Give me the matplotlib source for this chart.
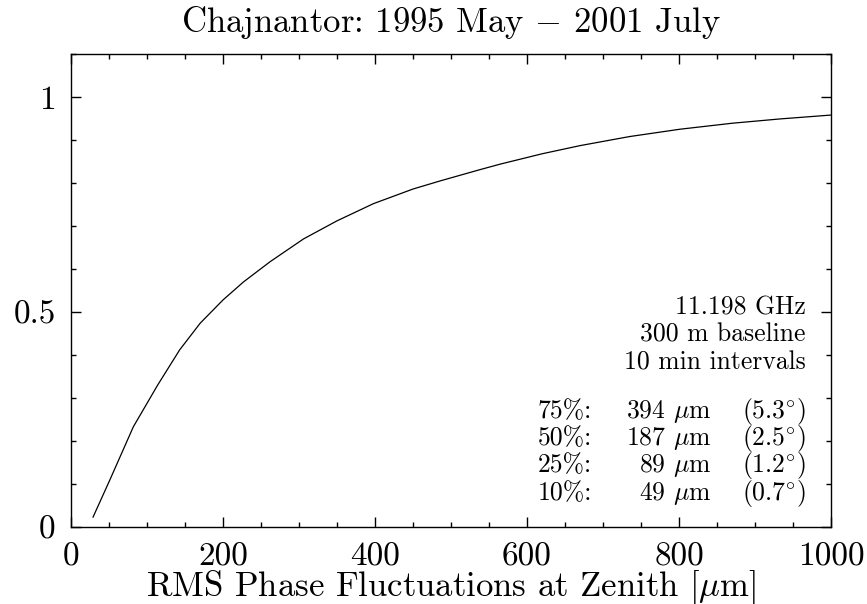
import matplotlib
matplotlib.use("Agg")
import matplotlib.pyplot as plt
from matplotlib.ticker import MultipleLocator, FormatStrFormatter

plt.rcParams['font.family'] = ['cmr10', 'DejaVu Serif']
plt.rcParams['mathtext.fontset'] = 'cm'
plt.rcParams['axes.formatter.use_mathtext'] = True

# cumulative fraction vs rms phase
rms_um = [29, 51, 82, 114, 143, 170, 200, 227, 262, 306, 350, 398, 450, 486,
          538, 565, 620, 670, 735, 801, 870, 933, 1000]
frac = [0.023, 0.109, 0.233, 0.330, 0.412, 0.474, 0.528, 0.570, 0.617, 0.670,
        0.712, 0.752, 0.786, 0.805, 0.831, 0.844, 0.868, 0.887, 0.908, 0.925,
        0.939, 0.949, 0.958]

info_lines = ['11.198 GHz', '300 m baseline', '10 min intervals']
pct_labels = ['75%:', '50%:', '25%:', '10%:']
pct_um = ['394', '187', '89', '49']
pct_deg = ['5.3', '2.5', '1.2', '0.7']

fig = plt.figure(figsize=(8.67, 6.04), dpi=100)
ax = fig.add_axes([0.0819, 0.1275, 0.8766, 0.7831])

ax.plot(rms_um, frac, color='black', lw=0.9)

ax.set_xlim(0, 1000)
ax.set_ylim(0, 1.1)
ax.xaxis.set_major_locator(MultipleLocator(200))
ax.xaxis.set_minor_locator(MultipleLocator(50))
ax.yaxis.set_major_locator(MultipleLocator(0.5))
ax.yaxis.set_minor_locator(MultipleLocator(0.1))
ax.xaxis.set_major_formatter(FormatStrFormatter('%g'))
ax.yaxis.set_major_formatter(FormatStrFormatter('%g'))
ax.tick_params(which='both', direction='in', top=True, right=True,
               width=1.0, labelsize=24)
ax.tick_params(which='major', length=7.2)
ax.tick_params(which='minor', length=3.6)
ax.tick_params(axis='x', pad=11)
ax.tick_params(axis='y', pad=11)
for s in ax.spines.values():
    s.set_linewidth(1.0)

ax.set_title('Chajnantor: 1995 May $-$ 2001 July', fontsize=25, pad=16)
ax.set_xlabel(r'RMS Phase Fluctuations at Zenith [$\mu$m]', fontsize=25,
              va='baseline')
ax.xaxis.set_label_coords(0.5, -0.146)

fs = 18.5
y0 = 0.494
dy = 0.0635
for i, t in enumerate(info_lines):
    ax.text(967, y0 - i * dy, t, ha='right', va='baseline', fontsize=fs)
y1 = 0.254
for i in range(len(pct_labels)):
    yy = y1 - i * dy
    ax.text(685, yy, pct_labels[i], ha='right', va='baseline', fontsize=fs)
    ax.text(843, yy, pct_um[i] + r' $\mu$m', ha='right', va='baseline',
            fontsize=fs)
    ax.text(967, yy, '(' + pct_deg[i] + r'$^{\circ}$)', ha='right',
            va='baseline', fontsize=fs)

fig.savefig('out.png', dpi=100)
